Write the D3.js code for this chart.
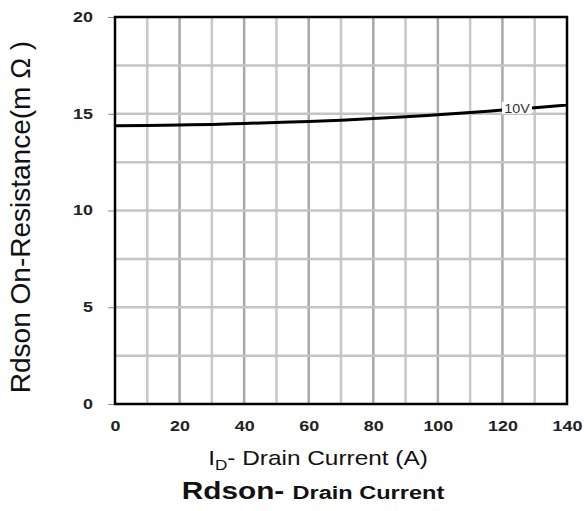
<!DOCTYPE html>
<html>
<head>
<meta charset="utf-8">
<script src="https://cdn.jsdelivr.net/npm/d3@7"></script>
<style>
  body { margin: 0; background: #fff; }
  svg { display: block; font-family: "Liberation Sans", Arial, sans-serif; }
</style>
</head>
<body>
<svg id="chart" width="584" height="511"></svg>
<script>
// Rdson vs drain current
const current = [0, 10, 20, 30, 40, 50, 60, 70, 80, 90, 100, 110, 120, 130, 140]
const rdson = [14.38, 14.39, 14.42, 14.45, 14.5, 14.55, 14.6, 14.67, 14.75, 14.84, 14.95, 15.06, 15.19, 15.31, 15.45]
const xTicks = [0, 20, 40, 60, 80, 100, 120, 140]
const yTicks = [0, 5, 10, 15, 20]
const curveLabel = "10V"

const svg = d3.select("#chart")
const margin = {top: 17, left: 115, right: 17, bottom: 107}
const width = 584 - margin.left - margin.right
const height = 511 - margin.top - margin.bottom
const stretch = 1.28   // le scan d'origine est étiré horizontalement

const x = d3.scaleLinear().domain([0, 140]).range([0, width])
const y = d3.scaleLinear().domain([0, 20]).range([height, 0])

const g = svg.append("g")
  .attr("transform", "translate(" + margin.left + "," + margin.top + ")")

/* Grille
-------------------------------------------------------------------------------------------------*/
g.append("g")
  .selectAll("line")
  .data(d3.range(10, 140, 10))
  .enter()
  .append("line")
  .attr("x1", d => x(d)).attr("x2", d => x(d))
  .attr("y1", 0).attr("y2", height)
  .style("stroke", d => d % 20 === 0 ? "#a8a8a8" : "#c8c8c8")
  .style("stroke-width", 2.5)

g.append("g")
  .selectAll("line")
  .data(d3.range(2.5, 20, 2.5))
  .enter()
  .append("line")
  .attr("x1", 0).attr("x2", width)
  .attr("y1", d => y(d)).attr("y2", d => y(d))
  .style("stroke", "#c4c4c4")
  .style("stroke-width", 2.5)

/* Axes
-------------------------------------------------------------------------------------------------*/
const yAxis = g.append("g")
  .call(d3.axisLeft(y).tickValues(yTicks).tickSize(7))
yAxis.select(".domain").remove()
yAxis.selectAll("line").style("stroke", "#888")
yAxis.selectAll("text")
  .attr("x", -22 / stretch)
  .attr("transform", "scale(" + stretch + ",1)")
  .style("font-size", "14px")
  .style("font-weight", "bold")
  .style("fill", "#222")

const xAxis = g.append("g")
  .attr("transform", "translate(0," + height + ")")
  .call(d3.axisBottom(x).tickValues(xTicks).tickSize(0).tickPadding(17))
xAxis.select(".domain").remove()
xAxis.selectAll("text")
  .attr("transform", "scale(" + stretch + ",1)")
  .style("font-size", "14px")
  .style("font-weight", "bold")
  .style("fill", "#222")

// Cadre
g.append("rect")
  .attr("width", width)
  .attr("height", height)
  .style("fill", "none")
  .style("stroke", "#000")
  .style("stroke-width", 2.5)

/* Courbe
-------------------------------------------------------------------------------------------------*/
const line = d3.line()
  .x((d, i) => x(current[i]))
  .y(d => y(d))
  .curve(d3.curveMonotoneX)

g.append("path")
  .datum(rdson)
  .style("fill", "none")
  .style("stroke", "#000")
  .style("stroke-width", 3)
  .attr("d", line)

// Etiquette 10V
const lx = x(124.5)
const ly = y(15.26)
g.append("rect")
  .attr("x", lx - 15)
  .attr("y", ly - 7)
  .attr("width", 30)
  .attr("height", 12)
  .style("fill", "#fff")
g.append("text")
  .attr("transform", "translate(" + lx + "," + (ly + 4) + ") scale(1.2,1)")
  .style("text-anchor", "middle")
  .style("font-size", "12px")
  .style("fill", "#333")
  .text(curveLabel)

/* Legendes
-------------------------------------------------------------------------------------------------*/
svg.append("text")
  .attr("transform", "translate(30,217) rotate(-90)")
  .style("text-anchor", "middle")
  .style("font-size", "28px")
  .style("fill", "#111")
  .text("Rdson On-Resistance(m Ω )")

const xt = svg.append("text")
  .attr("transform", "translate(318,465) scale(1.22,1)")
  .style("text-anchor", "middle")
  .style("font-size", "20px")
  .style("fill", "#111")
xt.append("tspan").text("I")
xt.append("tspan").attr("dy", 5).style("font-size", "14px").text("D")
xt.append("tspan").attr("dy", -5).text("- Drain Current (A)")

const title = svg.append("text")
  .attr("transform", "translate(313,499) scale(1.24,1)")
  .style("text-anchor", "middle")
  .style("font-weight", "bold")
  .style("fill", "#111")
title.append("tspan").style("font-size", "24px").text("Rdson- ")
title.append("tspan").style("font-size", "19px").text("Drain Current")
</script>
</body>
</html>
